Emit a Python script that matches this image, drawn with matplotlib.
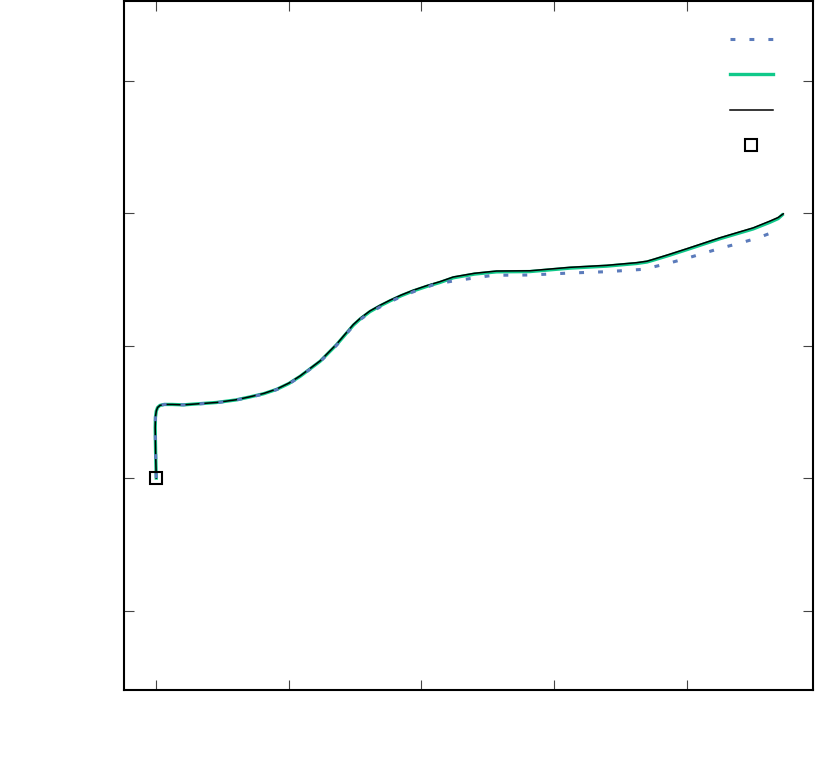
import numpy as np
import matplotlib
matplotlib.use("Agg")
import matplotlib.pyplot as plt
from matplotlib.lines import Line2D

# path traces (no labels in the original)
black_x = [0.000, -0.005, -0.008, -0.006, 0.000, 0.010, 0.028, 0.060, 0.120, 0.204,
           0.455, 0.600, 0.707, 0.810, 0.908, 1.000, 1.086, 1.236, 1.360, 1.486,
           1.540, 1.612, 1.690, 1.763, 1.850, 1.938, 2.040, 2.140, 2.240, 2.400,
           2.567, 2.818, 3.120, 3.397, 3.623, 3.700, 3.748, 3.870, 4.000, 4.251,
           4.502, 4.628, 4.690, 4.729]
black_y = [-1.000, -0.800, -0.620, -0.540, -0.495, -0.468, -0.452, -0.445, -0.445, -0.448,
           -0.430, -0.410, -0.387, -0.362, -0.329, -0.284, -0.229, -0.116, 0.010, 0.158,
           0.207, 0.261, 0.305, 0.342, 0.382, 0.417, 0.452, 0.482, 0.517, 0.545,
           0.562, 0.564, 0.590, 0.605, 0.625, 0.636, 0.650, 0.688, 0.730, 0.813,
           0.888, 0.939, 0.966, 0.994]

green_x = [0.000, -0.005, -0.008, -0.006, 0.000, 0.010, 0.028, 0.060, 0.120, 0.204,
           0.455, 0.600, 0.707, 0.810, 0.908, 1.000, 1.086, 1.236, 1.360, 1.486,
           1.540, 1.612, 1.690, 1.763, 1.850, 1.938, 2.040, 2.140, 2.240, 2.400,
           2.567, 2.818, 3.120, 3.397, 3.623, 3.700, 3.748, 3.870, 4.000, 4.251,
           4.502, 4.628, 4.690, 4.720]
green_y = [-1.000, -0.800, -0.620, -0.540, -0.495, -0.468, -0.452, -0.445, -0.445, -0.448,
           -0.430, -0.411, -0.388, -0.364, -0.331, -0.287, -0.232, -0.119, 0.006, 0.153,
           0.202, 0.256, 0.300, 0.337, 0.377, 0.412, 0.446, 0.476, 0.511, 0.539,
           0.556, 0.558, 0.584, 0.599, 0.619, 0.630, 0.644, 0.681, 0.723, 0.806,
           0.880, 0.930, 0.958, 0.985]

blue_x = [0.000, -0.005, -0.008, -0.006, 0.000, 0.010, 0.028, 0.060, 0.120, 0.204,
          0.455, 0.600, 0.707, 0.810, 0.908, 1.000, 1.086, 1.236, 1.360, 1.486,
          1.540, 1.612, 1.690, 1.763, 1.850, 1.938, 2.100, 2.240, 2.541, 2.818,
          3.120, 3.397, 3.673, 3.849, 4.000, 4.251, 4.402, 4.540, 4.679]
blue_y = [-1.000, -0.800, -0.620, -0.540, -0.495, -0.468, -0.452, -0.445, -0.445, -0.448,
          -0.432, -0.412, -0.390, -0.366, -0.333, -0.290, -0.234, -0.122, 0.002, 0.148,
          0.197, 0.248, 0.292, 0.330, 0.370, 0.405, 0.462, 0.487, 0.530, 0.532,
          0.547, 0.557, 0.575, 0.617, 0.658, 0.733, 0.773, 0.813, 0.866]

start_x = [0.0]
start_y = [-1.0]

x_ticks = [0, 1, 2, 3, 4]
y_ticks = [-2, -1, 0, 1, 2]

BLUE  = "#5b7bbb"
GREEN = "#10c98a"

fig = plt.figure(figsize=(8.15, 7.57), dpi=100)
ax = fig.add_axes([124.3 / 815, 67 / 757, 688.2 / 815, 689 / 757])

l_green, = ax.plot(green_x, green_y, color=GREEN, lw=2.4, zorder=2)
l_black, = ax.plot(black_x, black_y, color="black", lw=1.1, zorder=3)
l_blue,  = ax.plot(blue_x, blue_y, color=BLUE, lw=2.2, dashes=(1.6, 4.6),
                   dash_capstyle="butt", zorder=4)
l_start, = ax.plot(start_x, start_y, ls="none", marker="s", ms=8, mfc="none",
                   mec="black", mew=1.5, zorder=5)

ax.set_xlim(-0.241, 4.949)
ax.set_ylim(-2.6, 2.6)
ax.set_xticks(x_ticks)
ax.set_yticks(y_ticks)
ax.set_xticklabels([])
ax.set_yticklabels([])
ax.tick_params(direction="in", length=7, width=0.8, color="#444444",
               top=True, right=True)
for sp in ax.spines.values():
    sp.set_linewidth(1.5)
    sp.set_color("black")

leg = ax.legend([l_blue, l_green, l_black, l_start], ["", "", "", ""],
                loc="upper left", bbox_to_anchor=(0.880, 0.953),
                frameon=False, fontsize=10, handlelength=3.1, handleheight=1.0,
                labelspacing=1.55, borderpad=0, borderaxespad=0, handletextpad=0)

plt.savefig("out.png", dpi=100)
plt.close()
